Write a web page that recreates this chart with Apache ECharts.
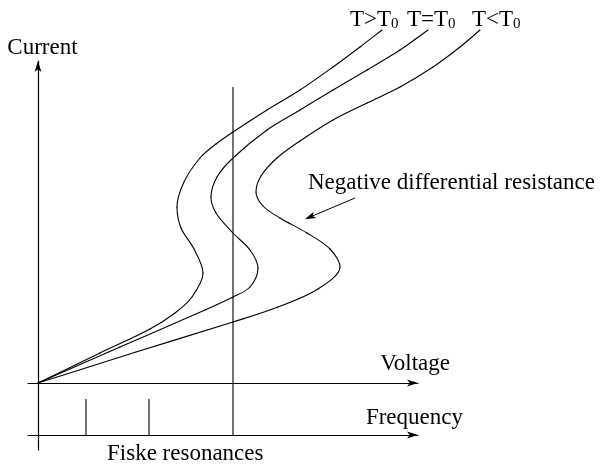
<!DOCTYPE html>
<html><head><meta charset="utf-8">
<script src="https://cdn.jsdelivr.net/npm/echarts@6/dist/echarts.min.js"></script>
<style>html,body{margin:0;padding:0;background:#fff}#c{width:600px;height:466px}</style>
</head><body><div id="c"></div>
<script>
// Schematic I-V curves (arbitrary units: voltage, current)
const seriesNames = ['T>T0', 'T=T0', 'T<T0'];
const curveHot = [[0,0],[62,30],[112,54],[137,70],[154,86],[165,110],[156,134],[143,155],[139,176],[146,201],[162,225],[178,239],[195,251],[229,273],[262,293],[295,316],[322,336],[344,353]];
const curveNominal = [[0,0],[82,36],[167,73],[195,86],[212,96],[220,115],[212,133],[195,150],[178,170],[173,186],[179,206],[195,225],[229,253],[262,273],[295,293],[329,313],[362,333],[390,353]];
const curveCold = [[0,0],[98,31],[195,61],[240,76],[280,94],[302,116],[292,134],[269,150],[242,165],[225,177],[218,191],[223,207],[239,225],[262,242],[295,263],[329,280],[362,296],[395,316],[422,336],[442,353]];
const markerVoltage = 195;
const markerCurrentRange = [296, -52];
const fiskeVoltages = [48, 111];
const fiskeTickRange = [-16, -52];
const ndrArrow = [[317,185],[272,166]];
const axisNames = {current: 'Current', voltage: 'Voltage', frequency: 'Frequency'};
const noteTexts = {ndr: 'Negative differential resistance', fiske: 'Fiske resonances'};

const FONT = '"Liberation Serif", "Times New Roman", serif';
const arrowPath = 'path://M5,0L10,16L5,12L0,16Z';
const black = '#000';

// smooth curve through pixel points (length-weighted cardinal spline as beziers,
// vertical tangents where the curve turns back in x)
function smoothSegments(pts) {
  const n = pts.length, segs = [], d = [];
  for (let i = 0; i < n - 1; i++) d.push(Math.hypot(pts[i+1][0]-pts[i][0], pts[i+1][1]-pts[i][1]) || 1e-6);
  function tangent(i) {
    const a = pts[Math.max(i-1, 0)], b = pts[Math.min(i+1, n-1)];
    const t = [b[0]-a[0], b[1]-a[1]];
    if (i > 0 && i < n-1 && (pts[i][0]-a[0]) * (b[0]-pts[i][0]) < 0) t[0] = 0;
    return t;
  }
  function span(i) {
    return (i > 0 ? d[i-1] : 0) + (i < n-1 ? d[i] : 0);
  }
  for (let i = 0; i < n - 1; i++) {
    const t0 = tangent(i), t1 = tangent(i+1);
    const s0 = d[i] / span(i) / 3, s1 = d[i] / span(i+1) / 3;
    segs.push({
      x1: pts[i][0], y1: pts[i][1], x2: pts[i+1][0], y2: pts[i+1][1],
      cpx1: pts[i][0] + t0[0]*s0, cpy1: pts[i][1] + t0[1]*s0,
      cpx2: pts[i+1][0] - t1[0]*s1, cpy2: pts[i+1][1] - t1[1]*s1
    });
  }
  return segs;
}

function curveSeries(name, data) {
  return {
    name: name, type: 'custom', coordinateSystem: 'cartesian2d', xAxisIndex: 2, yAxisIndex: 2,
    data: data, silent: true, encode: {x: 0, y: 1},
    renderItem: function (params, api) {
      if (params.dataIndex !== 0) return null;
      const pts = data.map(function (p) { return api.coord(p); });
      return {
        type: 'group',
        children: smoothSegments(pts).map(function (s) {
          return {type: 'bezierCurve', shape: s, style: {fill: null, stroke: black, lineWidth: 1.1, lineCap: 'round'}};
        })
      };
    }
  };
}
function segment(name, pts) {
  return {
    name: name, type: 'line', xAxisIndex: 0, yAxisIndex: 0, data: pts,
    symbol: 'none', clip: false, lineStyle: {color: black, width: 1.1}, silent: true
  };
}

const series = [
  curveSeries(seriesNames[0], curveHot),
  curveSeries(seriesNames[1], curveNominal),
  curveSeries(seriesNames[2], curveCold),
  segment('marker', [[markerVoltage, markerCurrentRange[0]], [markerVoltage, markerCurrentRange[1]]])
];
fiskeVoltages.forEach(function (v, i) {
  series.push(segment('fiske' + i, [[v, fiskeTickRange[0]], [v, fiskeTickRange[1]]]));
});
series.push({
  name: 'ndr', type: 'line', xAxisIndex: 2, yAxisIndex: 2, data: [], silent: true,
  markLine: {
    silent: true, animation: false,
    symbol: ['none', arrowPath], symbolSize: [7, 11],
    lineStyle: {color: black, width: 1, type: 'solid'},
    label: {show: false},
    data: [[{coord: ndrArrow[0]}, {coord: ndrArrow[1]}]]
  }
});

function sub(t) { return 'T' + t + 'T{s|0}'; }
const richSub = {s: {fontSize: 15, fontFamily: FONT, fill: black, verticalAlign: 'top', padding: [10, 0, 0, 0]}};
const hiddenAxis = {show: false, axisLine: {show: false}, axisTick: {show: false}, axisLabel: {show: false}, splitLine: {show: false}};

const option = {
  animation: false,
  backgroundColor: '#fff',
  grid: [
    {left: 28, width: 390, top: 61, height: 389, containLabel: false},
    {left: 28, width: 390, top: 400, height: 35, containLabel: false},
    {left: 28, width: 510, top: 0, height: 450, containLabel: false}
  ],
  xAxis: [
    {gridIndex: 0, type: 'value', min: -10, max: 380,
     name: axisNames.voltage, nameLocation: 'end', nameGap: 32,
     nameTextStyle: {fontFamily: FONT, fontSize: 23, color: black, align: 'right', verticalAlign: 'bottom', padding: [0, 0, 8, 0]},
     axisLine: {show: true, onZero: true, symbol: ['none', arrowPath], symbolSize: [7, 11], symbolOffset: [0, -5.5], lineStyle: {color: black, width: 1.2}},
     axisTick: {show: false}, axisLabel: {show: false}, splitLine: {show: false}},
    {gridIndex: 1, type: 'value', min: -10, max: 380, position: 'bottom',
     name: axisNames.frequency, nameLocation: 'end', nameGap: 45,
     nameTextStyle: {fontFamily: FONT, fontSize: 23, color: black, align: 'right', verticalAlign: 'bottom', padding: [0, 0, 6, 0]},
     axisLine: {show: true, onZero: false, symbol: ['none', arrowPath], symbolSize: [7, 11], symbolOffset: [0, -5.5], lineStyle: {color: black, width: 1.2}},
     axisTick: {show: false}, axisLabel: {show: false}, splitLine: {show: false}},
    Object.assign({gridIndex: 2, type: 'value', min: -10, max: 500}, hiddenAxis)
  ],
  yAxis: [
    {gridIndex: 0, type: 'value', min: -67, max: 322,
     name: axisNames.current, nameLocation: 'end', nameGap: 2,
     nameTextStyle: {fontFamily: FONT, fontSize: 23, color: black, padding: [0, 0, 0, 9]},
     axisLine: {show: true, onZero: true, symbol: ['none', arrowPath], symbolSize: [7, 11], symbolOffset: [0, -5.5], lineStyle: {color: black, width: 1.2}},
     axisTick: {show: false}, axisLabel: {show: false}, splitLine: {show: false}},
    Object.assign({gridIndex: 1, type: 'value', min: 0, max: 1}, hiddenAxis),
    Object.assign({gridIndex: 2, type: 'value', min: -67, max: 383}, hiddenAxis)
  ],
  graphic: [
    {type: 'text', left: 350, top: 8, silent: true, style: {text: sub('>'), font: '23px ' + FONT, fill: black, rich: richSub}},
    {type: 'text', left: 407, top: 8, silent: true, style: {text: sub('='), font: '23px ' + FONT, fill: black, rich: richSub}},
    {type: 'text', left: 472, top: 8, silent: true, style: {text: sub('<'), font: '23px ' + FONT, fill: black, rich: richSub}},
    {type: 'text', left: 308, top: 171, silent: true, style: {text: noteTexts.ndr, font: '23px ' + FONT, fill: black}},
    {type: 'text', left: 107, top: 442, silent: true, style: {text: noteTexts.fiske, font: '23px ' + FONT, fill: black}}
  ],
  series: series
};
const chart = echarts.init(document.getElementById('c'), null, {renderer: 'canvas'});
chart.setOption(option);
</script></body></html>
